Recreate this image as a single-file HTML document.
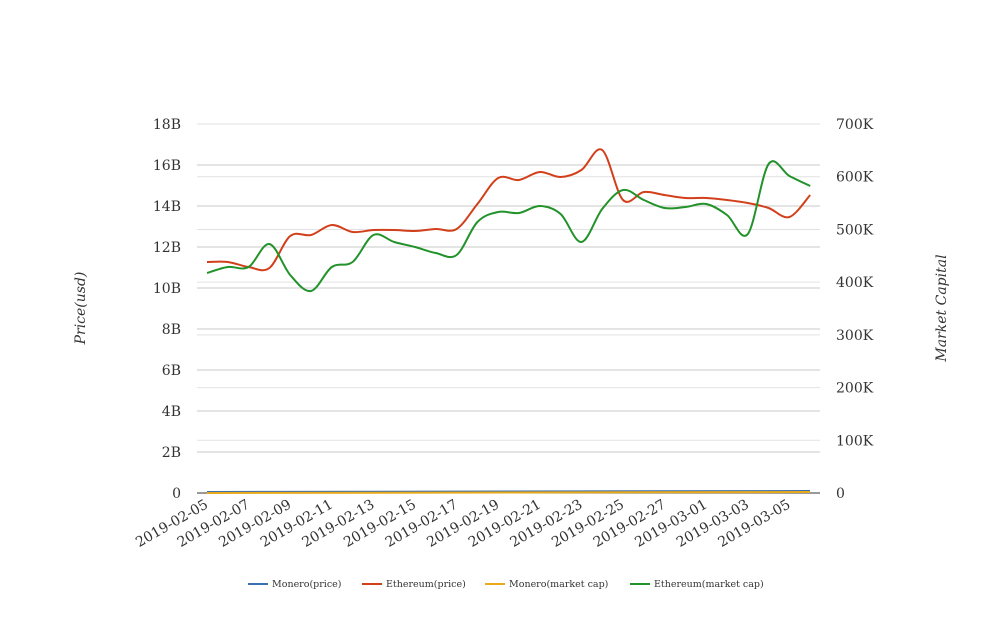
<!DOCTYPE html>
<html><head><meta charset="utf-8"><style>
body{margin:0;background:#fff}
svg text{font-family:"DejaVu Serif","Liberation Serif",serif;fill:#333}
</style></head><body>
<svg id="s" width="1008" height="616" xmlns="http://www.w3.org/2000/svg">
<g id="grid"></g>
<line x1="197" y1="493" x2="820" y2="493" stroke="#333" stroke-width="1"/>
<g id="lab" font-size="14"></g>
<text x="85" y="308" font-size="14" font-style="italic" text-anchor="middle" transform="rotate(-90 85 308)">Price(usd)</text>
<text x="946" y="308" font-size="14" font-style="italic" text-anchor="middle" transform="rotate(-90 946 308)">Market Capital</text>
<g id="lines"></g>
<g font-size="9.5">
<line x1="248" y1="584" x2="268" y2="584" stroke="#3a6fb0" stroke-width="2"/><text x="272" y="587">Monero(price)</text>
<line x1="362" y1="584" x2="382" y2="584" stroke="#d2401b" stroke-width="2"/><text x="386" y="587">Ethereum(price)</text>
<line x1="485" y1="584" x2="505" y2="584" stroke="#e8a91a" stroke-width="2"/><text x="509" y="587">Monero(market cap)</text>
<line x1="630" y1="584" x2="650" y2="584" stroke="#22922a" stroke-width="2"/><text x="654" y="587">Ethereum(market cap)</text>
</g>
</svg>
<script>
var NS="http://www.w3.org/2000/svg";
function el(p,t,a,txt){var e=document.createElementNS(NS,t);for(var k in a)e.setAttribute(k,a[k]);if(txt)e.textContent=txt;document.getElementById(p).appendChild(e);}
var lt=["0","2B","4B","6B","8B","10B","12B","14B","16B","18B"];
for(var i=0;i<10;i++){var y=493-i*41;if(i>0)el("grid","line",{x1:197,x2:820,y1:y,y2:y,stroke:"#c8c8c8"});el("lab","text",{x:181,y:y+5,"text-anchor":"end"},lt[i]);}
var rt=["0","100K","200K","300K","400K","500K","600K","700K"];
for(var i=0;i<8;i++){var y=493-i*52.71;if(i>0)el("grid","line",{x1:197,x2:820,y1:y,y2:y,stroke:"#e2e2e2"});el("lab","text",{x:836,y:y+5},rt[i]);}
for(var d=0;d<15;d++){var x=209+d*2*20.8;var dt=new Date(Date.UTC(2019,1,5+d*2));var s=dt.toISOString().slice(0,10);
el("lab","text",{x:x,y:507,"text-anchor":"end",transform:"rotate(-30 "+x+" 507)"},s);}
var red=[262,262,267,268,236,235,225,232,230,230,231,229,229,204,178,180,172,177,170,150,200,192,195,198,198,200,203,208,217,195];
var grn=[273,267,267,244,275,291,267,262,235,242,247,253,255,222,212,213,206,214,242,209,190,200,208,207,204,215,234,164,176,186];
function path(ys){var p=ys.map(function(y,i){return[207+i*20.8,y]});var d="M"+p[0][0]+","+p[0][1];
for(var i=0;i<p.length-1;i++){var p0=p[i-1]||p[i],p1=p[i],p2=p[i+1],p3=p[i+2]||p2;
d+=" C"+(p1[0]+(p2[0]-p0[0])/6)+","+(p1[1]+(p2[1]-p0[1])/6)+" "+(p2[0]-(p3[0]-p1[0])/6)+","+(p2[1]-(p3[1]-p1[1])/6)+" "+p2[0]+","+p2[1];}return d;}
el("lines","line",{x1:207,x2:810,y1:492,y2:491,stroke:"#3a6fb0","stroke-width":2});
el("lines","line",{x1:207,x2:810,y1:493,y2:492,stroke:"#e8a91a","stroke-width":2});
el("lines","path",{d:path(red),fill:"none",stroke:"#d2401b","stroke-width":2});
el("lines","path",{d:path(grn),fill:"none",stroke:"#22922a","stroke-width":2});
</script>
</body></html>
